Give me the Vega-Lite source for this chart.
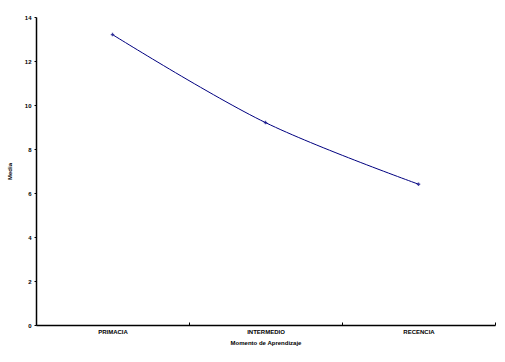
{
  "$schema": "https://vega.github.io/schema/vega-lite/v6.json",
  "width": 459,
  "height": 308,
  "autosize": "none",
  "padding": {"left": 36, "top": 17, "right": 10, "bottom": 37},
  "background": "white",
  "config": {
    "view": {"stroke": null},
    "font": "Liberation Sans"
  },
  "data": {
    "values": [
      {"momento": "PRIMACIA", "media": 13.2},
      {"momento": "INTERMEDIO", "media": 9.2},
      {"momento": "RECENCIA", "media": 6.4}
    ]
  },
  "encoding": {
    "x": {
      "field": "momento",
      "type": "nominal",
      "sort": null,
      "scale": {"type": "band", "paddingInner": 0, "paddingOuter": 0},
      "axis": {
        "title": "Momento de Aprendizaje",
        "titleFont": "Liberation Sans",
        "titleFontSize": 6,
        "titleFontWeight": "bold",
        "titlePadding": 5,
        "labelAngle": 0,
        "labelFontSize": 6,
        "labelFontWeight": "bold",
        "labelColor": "black",
        "labelPadding": 6,
        "domainColor": "black",
        "domainWidth": 1.5,
        "tickBand": "extent",
        "tickColor": "black",
        "tickSize": -3,
        "titleColor": "black"
      }
    },
    "y": {
      "field": "media",
      "type": "quantitative",
      "scale": {"domain": [0, 14]},
      "axis": {
        "title": "Media",
        "titleFontSize": 6,
        "titleFontWeight": "bold",
        "titleColor": "black",
        "titlePadding": 12,
        "values": [0, 2, 4, 6, 8, 10, 12, 14],
        "labelFontSize": 6,
        "labelFontWeight": "bold",
        "labelColor": "black",
        "labelPadding": 3,
        "domainColor": "black",
        "domainWidth": 1.5,
        "tickColor": "black",
        "tickSize": 2,
        "grid": false
      }
    }
  },
  "layer": [
    {
      "mark": {"type": "line", "color": "#000080", "strokeWidth": 1, "interpolate": "catmull-rom"}
    },
    {
      "mark": {"type": "point", "shape": "cross", "filled": true, "color": "#000080", "size": 12}
    }
  ]
}
